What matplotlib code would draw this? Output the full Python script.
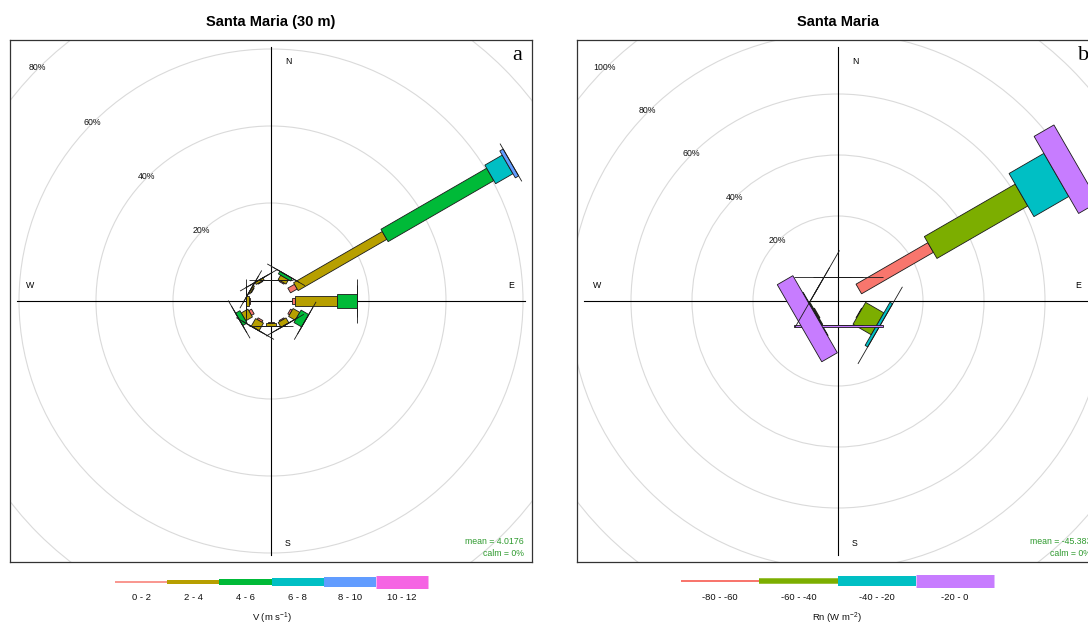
import numpy as np
import matplotlib
matplotlib.use("Agg")
import matplotlib.pyplot as plt
from matplotlib.patches import Polygon, Circle
from matplotlib.lines import Line2D

plt.rcParams['font.family'] = ['Liberation Sans', 'DejaVu Sans']
plt.rcParams['mathtext.fontset'] = 'custom'
plt.rcParams['mathtext.rm'] = 'Liberation Sans'

# ---------------- wind speed rose (panel a) ----------------
v_directions = [0, 30, 60, 90, 120, 150, 180, 210, 240, 270, 300, 330]
v_labels = ["0 - 2", "2 - 4", "4 - 6", "6 - 8", "8 - 10", "10 - 12"]
v_colors = ["#F8766D", "#B79F00", "#00BA38", "#00BFC4", "#619CFF", "#F564E3"]
v_0_2 = [0.0, 0.3, 2.0, 0.8, 0.5, 0.3, 0.2, 0.5, 0.8, 0.2, 0.2, 0.2]
v_2_4 = [0.0, 1.3, 26.6, 11.0, 2.0, 1.5, 0.8, 2.3, 2.0, 0.8, 0.4, 0.6]
v_4_6 = [0.0, 0.8, 31.7, 5.2, 2.3, 0.0, 0.0, 0.0, 1.3, 0.0, 0.0, 0.0]
v_6_8 = [0.0, 0.0, 5.2, 0.0, 0.0, 0.0, 0.0, 0.0, 0.0, 0.0, 0.0, 0.0]
v_8_10 = [0.0, 0.0, 1.0, 0.0, 0.0, 0.0, 0.0, 0.0, 0.0, 0.0, 0.0, 0.0]
v_10_12 = [0.0] * 12
v_rings = [20, 40, 60, 80]
v_mean = "mean = 4.0176"
v_calm = "calm = 0%"

# ---------------- net radiation rose (panel b) ----------------
rn_directions = [0, 60, 120, 180, 240, 300]
rn_labels = ["-80 - -60", "-60 - -40", "-40 - -20", "-20 - 0"]
rn_colors = ["#F8766D", "#7CAE00", "#00BFC4", "#C77CFF"]
rn_m80_m60 = [0.0, 27.2, 0.2, 0.0, 0.3, 0.0]
rn_m60_m40 = [0.0, 34.4, 6.9, 0.0, 0.3, 0.0]
rn_m40_m20 = [0.0, 13.2, 1.0, 0.0, 0.2, 0.0]
rn_m20_0 = [0.0, 7.5, 0.0, 0.8, 5.9, 0.0]
rn_rings = [20, 40, 60, 80, 100]
rn_mean = "mean = -45.383"
rn_calm = "calm = 0%"

W, H = 1088, 626
fig = plt.figure(figsize=(W / 100, H / 100), dpi=100)
fig.patch.set_facecolor("white")

BOX = 522  # panel size in pixels


def paddle_widths(n, widest):
    w = np.linspace(0.002 ** 0.25, 0.016 ** 0.25, n) ** 4
    return w / w[-1] * widest


def draw_rose(left_px, title, letter, dirs, bins, colors, px_per_pct,
              offset_px, widest_px, rings, mean_txt, calm_txt):
    ax = fig.add_axes([left_px / W, (H - 40 - BOX) / H, BOX / W, BOX / H])
    half = (BOX / 2) / px_per_pct
    ax.set_xlim(-half, half)
    ax.set_ylim(-half, half)
    ax.set_aspect("equal")
    ax.set_xticks([])
    ax.set_yticks([])
    for sp in ax.spines.values():
        sp.set_color("#333333")
        sp.set_linewidth(0.9)

    off = offset_px / px_per_pct
    px = 1.0 / px_per_pct

    # grid rings
    for p in rings:
        ax.add_patch(Circle((0, 0), off + p, fill=False, ec="#DADADA",
                            lw=0.8, zorder=1))
        a = np.deg2rad(315)
        r = off + p + 1 * px
        ax.text(r * np.sin(a), r * np.cos(a), f"{p}%", fontsize=6.3,
                ha="center", va="center", color="#111111", zorder=2)

    # cross hairs
    L = 254 * px
    ax.plot([0, 0], [-L, L], color="black", lw=0.8, zorder=2)
    ax.plot([-L, L], [0, 0], color="black", lw=0.8, zorder=2)
    ax.text(17 * px, 240 * px, "N", fontsize=6.3, ha="center", va="center")
    ax.text(17 * px, -243 * px, "S", fontsize=6.3, ha="center", va="center")
    ax.text(-241 * px, 16 * px, "W", fontsize=6.3, ha="center", va="center")
    ax.text(240 * px, 16 * px, "E", fontsize=6.3, ha="center", va="center")

    # paddles
    widths = paddle_widths(len(bins), widest_px * px)
    freqs = np.array(bins, dtype=float)
    cum = np.vstack([np.zeros(len(dirs)), np.cumsum(freqs, axis=0)])
    th = np.deg2rad(np.array(dirs, dtype=float))
    s, c = np.sin(th), np.cos(th)
    for i in range(len(bins)):
        w = widths[i]
        for k in range(len(dirs)):
            l1 = cum[i, k] + off
            l2 = cum[i + 1, k] + off
            pts = [
                (l1 * s[k] - w * c[k], l1 * c[k] + w * s[k]),
                (l1 * s[k] + w * c[k], l1 * c[k] - w * s[k]),
                (l2 * s[k] + w * c[k], l2 * c[k] - w * s[k]),
                (l2 * s[k] - w * c[k], l2 * c[k] + w * s[k]),
            ]
            ax.add_patch(Polygon(pts, closed=True, fc=colors[i],
                                 ec="#1a1a1a", lw=0.6, zorder=3 + i))

    ax.text(0.5, 1 + 18 / BOX, title, transform=ax.transAxes,
            ha="center", va="center", fontsize=10.5, fontweight="bold")
    ax.text(0.971, 1 - 15 / BOX, letter, transform=ax.transAxes,
            ha="center", va="center", fontsize=16,
            family=["Liberation Serif", "DejaVu Serif"])
    ax.text(1 - 8 / BOX, 1 - 501 / BOX, mean_txt, transform=ax.transAxes,
            ha="right", va="center", fontsize=6.3, color="#2E9A2E")
    ax.text(1 - 8 / BOX, 1 - 513 / BOX, calm_txt, transform=ax.transAxes,
            ha="right", va="center", fontsize=6.3, color="#2E9A2E")
    return ax


draw_rose(10, "Santa Maria (30 m)", "a", v_directions,
          [v_0_2, v_2_4, v_4_6, v_6_8, v_8_10, v_10_12], v_colors,
          3.85, 21, 21.8, v_rings, v_mean, v_calm)
draw_rose(577, "Santa Maria", "b", rn_directions,
          [rn_m80_m60, rn_m60_m40, rn_m40_m20, rn_m20_0], rn_colors,
          3.05, 24, 44.5, rn_rings, rn_mean, rn_calm)

# ---------------- legends below each panel ----------------
lg = fig.add_axes([0, 0, 1, 1], zorder=-1)
lg.set_xlim(0, W)
lg.set_ylim(H, 0)
lg.axis("off")


def draw_key(x0, x1, yc, labels, colors, thick_px, title):
    n = len(labels)
    edges = np.linspace(x0, x1, n + 1)
    for i in range(n):
        lg.add_line(Line2D([edges[i], edges[i + 1]], [yc, yc],
                           color=colors[i], lw=thick_px[i] * 0.72,
                           solid_capstyle="butt"))
        lg.text((edges[i] + edges[i + 1]) / 2, 597, labels[i],
                ha="center", va="center", fontsize=6.8, color="#111111")
    lg.text((x0 + x1) / 2, 618, title, ha="center", va="center",
            fontsize=6.8, color="#111111")


draw_key(115, 428, 582, v_labels, v_colors, [1.5, 4, 6, 8, 10, 13],
         r"V (m s$^{\mathregular{-1}}$)")
draw_key(681, 994, 581, rn_labels, rn_colors, [2, 5.5, 10, 13],
         r"Rn (W m$^{\mathregular{-2}}$)")

fig.savefig("out.png", dpi=100, facecolor="white")
